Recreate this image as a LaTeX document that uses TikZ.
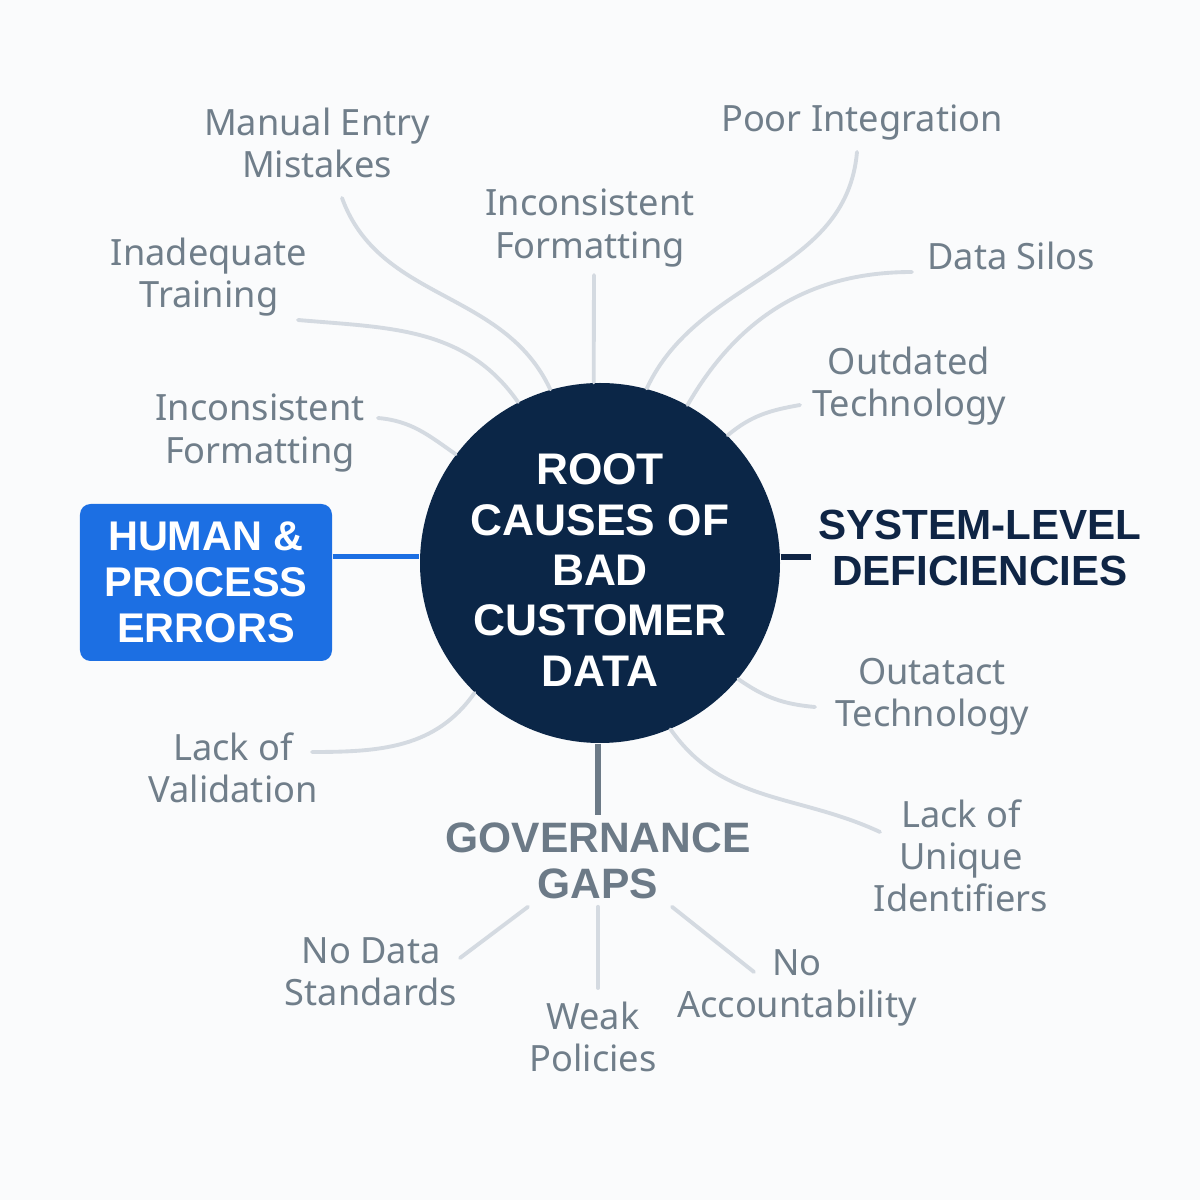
\documentclass[tikz,border=0pt]{standalone}
\usepackage{fontspec}
\setmainfont{Noto Sans}
\newfontfamily\headfont{Liberation Sans}
\usepackage{tikz}

\begin{document}
\begin{tikzpicture}[
	leaf/.style={text=cleaf,align=center,inner sep=1pt,font=\fontsize{10.3}{12}\selectfont},
	head/.style={align=center,inner sep=2pt,font=\headfont\bfseries\fontsize{12.1}{13.1}\selectfont},
	twig/.style={draw=cedge,line width=1.1pt,line cap=round},
	]
					\definecolor{cbg}{rgb}{0.98,0.984,0.988}
					\definecolor{croot}{HTML}{0B2647}
					\definecolor{chuman}{HTML}{1C6FE3}
					\definecolor{csys}{HTML}{0F2545}
					\definecolor{cgov}{HTML}{6C7A87}
					\definecolor{cleaf}{HTML}{707E8A}
					\definecolor{cedge}{HTML}{D4DAE1}
					%
					\fill[cbg] (0,0) rectangle (12,12);
					\useasboundingbox (0,0) rectangle (12,12);
					%
					\node[style={circle,minimum size=3.6cm,inner sep=0pt,fill=croot,text=white,align=center,font=\headfont\bfseries\fontsize{12.6}{14.3}\selectfont}] (root) at (6.00,6.37) {\rule{0pt}{0.45cm}ROOT\\CAUSES OF\\BAD\\CUSTOMER\\DATA};
					\node[head,style={fill=chuman,text=white,rounded corners=3pt,minimum width=2.52cm,minimum height=1.57cm,font=\headfont\bfseries\fontsize{11.8}{13.1}\selectfont}] (human) at (2.06,6.175) {HUMAN \&\\PROCESS\\ERRORS};
					\node[head,style={text=csys,font=\headfont\bfseries\fontsize{12.0}{13.1}\selectfont}] (sys) at (9.80,6.52) {SYSTEM-LEVEL\\DEFICIENCIES};
					\node[head,style={text=cgov}] (gov) at (5.98,3.39) {GOVERNANCE\\GAPS};
					%
					\node[leaf] (man) at (3.17,10.57) {Manual Entry\\Mistakes};
					\node[leaf] (inadq) at (2.09,9.23) {Inadequate\\Training};
					\node[leaf] (incL) at (2.60,7.67) {Inconsistent\\Formatting};
					\node[leaf] (lval) at (2.33,4.32) {Lack of\\Validation};
					\node[leaf] (incT) at (5.90,9.72) {Inconsistent\\Formatting};
					\node[leaf] (poor) at (8.62,10.77) {Poor Integration};
					\node[leaf] (silos) at (10.11,9.44) {Data Silos};
					\node[leaf] (outd) at (9.09,8.14) {Outdated\\Technology};
					\node[leaf] (outa) at (9.32,5.035) {Outatact\\Technology};
					\node[leaf] (uniq) at (9.61,3.44) {Lack of\\Unique\\Identifiers};
					\node[leaf] (nds) at (3.71,2.28) {No Data\\Standards};
					\node[leaf] (weak) at (5.93,1.63) {Weak\\Policies};
					\node[leaf] (noacc) at (7.97,2.12) {No\\Accountability};
					%
					\coordinate (cMan) at (3.42,10.02);
					\coordinate (cInadq) at (2.98,8.80);
					\coordinate (cIncL) at (3.78,7.82);
					\coordinate (cIncT) at (5.94,9.25);
					\coordinate (cVal) at (3.12,4.48);
					\coordinate (cPoor) at (8.57,10.48);
					\coordinate (cSilos) at (9.12,9.28);
					\coordinate (cOutd) at (8.00,7.95);
					\coordinate (cOuta) at (8.15,4.93);
					\coordinate (cUniq) at (8.80,3.68);
					\coordinate (cNds) at (4.60,2.42);
					\coordinate (cWeak) at (5.98,2.12);
					\coordinate (cNoacc) at (7.54,2.28);
					%
					\draw[chuman,line width=1.4pt] (human.east |- root.178) -- (root.178);
					\draw[csys,line width=1.7pt] (root.2) -- (sys.west |- root.2);
					\draw[cgov,line width=1.6pt] (root.south -| gov.north) -- (gov.north);
					%
					\draw[twig] (cMan) to[out=-70,in=115] (root.106);
					\draw[twig] (cInadq) to[out=-5,in=125] (root.117);
					\draw[twig] (cIncL) to[out=-5,in=145] (root.143);
					\draw[twig] (cIncT) -- (root.92);
					\draw[twig] (cVal) to[out=0,in=-125] (root.-134);
					\draw[twig] (cPoor) to[out=-95,in=65] (root.75);
					\draw[twig] (cSilos) to[out=180,in=60] (root.61);
					\draw[twig] (cOutd) to[out=190,in=40] (root.45);
					\draw[twig] (cOuta) to[out=175,in=-35] (root.-40);
					\draw[twig] (cUniq) to[out=155,in=-55] (root.-67);
					%
					\draw[twig] ([xshift=-7mm]gov.south) -- (cNds);
					\draw[twig] (gov.south) -- (cWeak);
					\draw[twig] ([xshift=7.4mm]gov.south) -- (cNoacc);
					%
				\end{tikzpicture}
\end{document}
